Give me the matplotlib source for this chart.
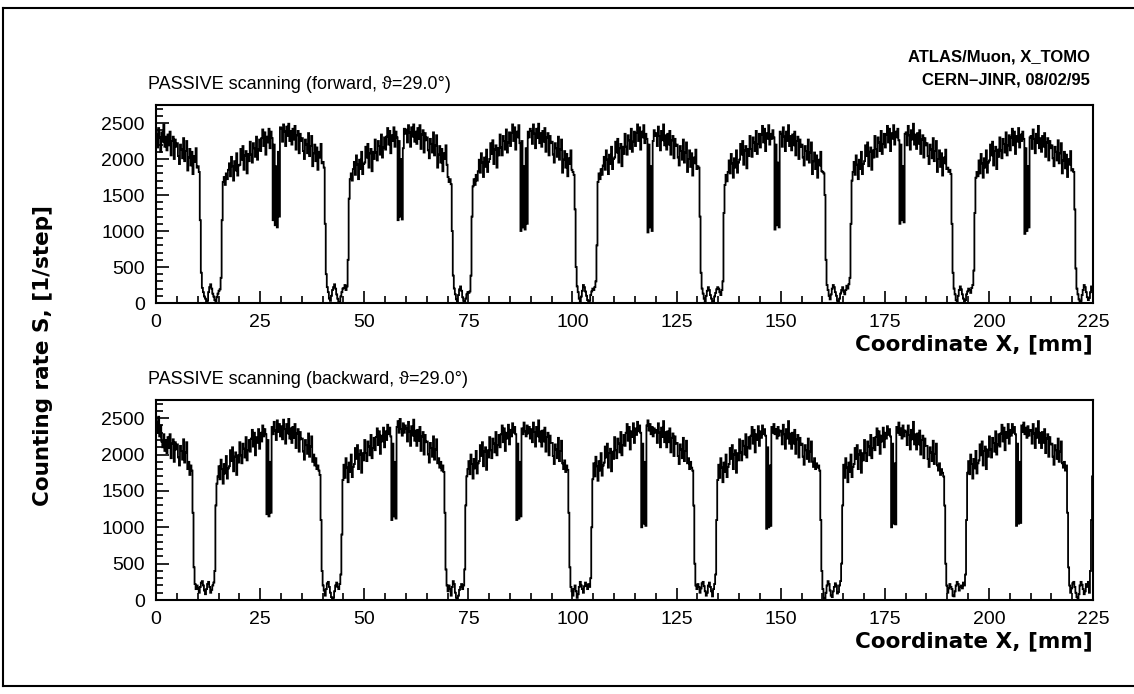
import numpy as np
import matplotlib
matplotlib.use('Agg')
import matplotlib.pyplot as plt
from matplotlib.lines import Line2D
from matplotlib.ticker import MultipleLocator

# scan grid: 0.25 mm steps from 0 to 225 mm
step_mm = 0.25
x_lo, x_hi = 0, 225

# counts per step, forward scan (one row = 10 steps = 2.5 mm)
fwd_counts = [
    2340, 2160, 2430, 2300, 2100, 2370, 2240, 2480, 2170, 2310,
    2120, 2340, 2190, 2380, 2050, 2250, 2310, 2000, 2270, 2170,
    2220, 2040, 1930, 2200, 2130, 2010, 2290, 1970, 2110, 2250,
    1840, 2020, 2140, 1910, 2100, 1790, 2040, 1960, 2150, 1880,
    1900, 1820, 1150, 420, 210, 150, 90, 60, 0, 30,
    150, 220, 260, 200, 130, 90, 40, 20, 80, 130,
    170, 190, 350, 1150, 1680, 1750, 1640, 1800, 1720, 1850,
    1940, 1760, 2030, 1900, 1700, 1970, 1840, 2080, 1770, 1910,
    1920, 2140, 1990, 2180, 1850, 2050, 2110, 1800, 2070, 1970,
    2240, 2060, 1950, 2220, 2150, 2030, 2310, 1990, 2130, 2270,
    2110, 2290, 2410, 2180, 2370, 2060, 2310, 2230, 2420, 2150,
    2380, 2290, 1150, 2200, 1080, 1900, 1050, 2100, 1200, 2440,
    2420, 2240, 2480, 2380, 2180, 2450, 2320, 2490, 2250, 2390,
    2200, 2420, 2270, 2460, 2130, 2330, 2390, 2080, 2350, 2250,
    2290, 2110, 2000, 2270, 2200, 2080, 2360, 2040, 2180, 2320,
    1900, 2080, 2200, 1970, 2160, 1850, 2100, 2020, 2210, 1940,
    1960, 1880, 1100, 400, 220, 150, 60, 30, 100, 180,
    220, 260, 200, 120, 60, 0, 10, 90, 150, 200,
    210, 250, 180, 230, 600, 1450, 1720, 1800, 1700, 1860,
    1960, 1780, 2050, 1920, 1720, 1990, 1860, 2100, 1790, 1930,
    1950, 2170, 2020, 2210, 1880, 2080, 2140, 1830, 2100, 2000,
    2270, 2090, 1980, 2250, 2180, 2060, 2340, 2020, 2160, 2300,
    2130, 2310, 2430, 2200, 2390, 2080, 2330, 2250, 2440, 2170,
    2380, 2300, 1150, 2250, 1200, 2000, 1160, 2150, 2420, 2350,
    2410, 2230, 2470, 2370, 2170, 2440, 2310, 2480, 2240, 2380,
    2210, 2430, 2280, 2470, 2140, 2340, 2400, 2090, 2360, 2260,
    2300, 2120, 2010, 2280, 2210, 2090, 2370, 2050, 2190, 2330,
    1880, 2060, 2180, 1950, 2140, 1830, 2080, 2000, 2190, 1920,
    1750, 1680, 1720, 1650, 1000, 380, 200, 120, 50, 20,
    110, 190, 230, 170, 80, 30, 0, 60, 120, 150,
    140, 160, 380, 1200, 1620, 1720, 1640, 1780, 1700, 1830,
    1990, 1810, 2080, 1950, 1750, 2020, 1890, 2130, 1820, 1960,
    2000, 2220, 2070, 2260, 1930, 2130, 2190, 1880, 2150, 2050,
    2340, 2160, 2050, 2320, 2250, 2130, 2410, 2090, 2230, 2370,
    2180, 2360, 2480, 2250, 2440, 2130, 2380, 2300, 2470, 2220,
    1000, 2250, 1050, 1900, 1020, 2150, 1100, 2380, 2300, 2420,
    2390, 2210, 2480, 2350, 2150, 2420, 2290, 2490, 2220, 2360,
    2170, 2390, 2240, 2430, 2100, 2300, 2360, 2050, 2320, 2220,
    2240, 2060, 1950, 2220, 2150, 2030, 2310, 1990, 2130, 2270,
    1810, 1990, 2110, 1880, 2070, 1760, 2010, 1930, 2120, 1850,
    1820, 1780, 1300, 500, 230, 150, 60, 20, 90, 170,
    250, 220, 160, 100, 40, 0, 30, 110, 160, 200,
    180, 220, 300, 800, 1680, 1800, 1720, 1860, 1780, 1910,
    2030, 1850, 2120, 1990, 1790, 2060, 1930, 2170, 1860, 2000,
    2020, 2240, 2090, 2280, 1950, 2150, 2210, 1900, 2170, 2070,
    2350, 2170, 2060, 2330, 2260, 2140, 2420, 2100, 2240, 2380,
    2180, 2360, 2480, 2250, 2440, 2130, 2380, 2300, 2470, 2220,
    2350, 2280, 980, 2200, 1050, 1900, 1000, 2250, 2400, 2320,
    2360, 2180, 2450, 2320, 2120, 2390, 2260, 2480, 2190, 2330,
    2130, 2350, 2200, 2390, 2060, 2260, 2320, 2010, 2280, 2180,
    2200, 2020, 1910, 2180, 2110, 1990, 2270, 1950, 2090, 2230,
    1820, 2000, 2120, 1890, 2080, 1770, 2020, 1940, 2130, 1860,
    1900, 1880, 1200, 420, 200, 130, 60, 20, 100, 170,
    220, 180, 110, 60, 0, 20, 90, 140, 190, 220,
    200, 150, 110, 180, 300, 1250, 1640, 1780, 1690, 1820,
    1980, 1800, 2070, 1940, 1740, 2010, 1880, 2120, 1810, 1950,
    1990, 2210, 2060, 2250, 1920, 2120, 2180, 1870, 2140, 2040,
    2320, 2140, 2030, 2300, 2230, 2110, 2390, 2070, 2210, 2350,
    2160, 2340, 2460, 2230, 2420, 2110, 2360, 2280, 2470, 2200,
    2350, 2280, 2400, 2300, 1020, 2200, 1080, 1950, 1050, 2380,
    2350, 2170, 2440, 2310, 2110, 2380, 2250, 2470, 2180, 2320,
    2120, 2340, 2190, 2380, 2050, 2250, 2310, 2000, 2270, 2170,
    2200, 2020, 1910, 2180, 2110, 1990, 2270, 1950, 2090, 2230,
    1790, 1970, 2090, 1860, 2050, 1740, 1990, 1910, 2100, 1830,
    1820, 1800, 1500, 600, 250, 180, 100, 50, 120, 200,
    250, 220, 150, 100, 30, 0, 60, 130, 180, 220,
    160, 120, 180, 240, 200, 260, 350, 1100, 1700, 1820,
    1960, 1780, 2050, 1920, 1720, 1990, 1860, 2100, 1790, 1930,
    1970, 2190, 2040, 2230, 1900, 2100, 2160, 1850, 2120, 2020,
    2320, 2140, 2030, 2300, 2230, 2110, 2390, 2070, 2210, 2350,
    2160, 2340, 2460, 2230, 2420, 2110, 2360, 2280, 2470, 2200,
    2380, 2300, 2420, 2260, 1100, 2200, 1150, 1900, 1120, 2350,
    2370, 2190, 2460, 2330, 2130, 2400, 2270, 2490, 2200, 2340,
    2140, 2360, 2210, 2400, 2070, 2270, 2330, 2020, 2290, 2190,
    2220, 2040, 1930, 2200, 2130, 2010, 2290, 1970, 2110, 2250,
    1820, 2000, 2120, 1890, 2080, 1770, 2020, 1940, 2130, 1860,
    1880, 1820, 1850, 1790, 1100, 420, 200, 120, 40, 10,
    100, 180, 230, 190, 120, 60, 0, 40, 120, 160,
    200, 180, 140, 210, 250, 450, 1250, 1740, 1820, 1760,
    1980, 1800, 2070, 1940, 1740, 2010, 1880, 2120, 1810, 1950,
    1980, 2200, 2050, 2240, 1910, 2110, 2170, 1860, 2130, 2030,
    2300, 2120, 2010, 2280, 2210, 2090, 2370, 2050, 2190, 2330,
    2120, 2300, 2420, 2190, 2380, 2070, 2320, 2240, 2430, 2160,
    2340, 2250, 2380, 2280, 960, 2150, 1000, 1900, 1050, 2300,
    2320, 2140, 2410, 2280, 2080, 2350, 2220, 2460, 2150, 2290,
    2100, 2320, 2170, 2360, 2030, 2230, 2290, 1980, 2250, 2150,
    2190, 2010, 1900, 2170, 2100, 1980, 2260, 1940, 2080, 2220,
    1800, 1980, 2100, 1870, 2060, 1750, 2000, 1920, 2110, 1840,
    1860, 1820, 1300, 480, 200, 120, 50, 0, 30, 110,
    180, 250, 220, 150, 80, 40, 70, 150, 230, 180,
]

# counts per step, backward scan
bwd_counts = [
    2450, 2300, 2520, 2250, 2400, 2180, 2100, 2280, 2050, 2200,
    2020, 2240, 2090, 2280, 1950, 2150, 2210, 1900, 2170, 2070,
    2140, 1960, 1850, 2120, 2050, 1930, 2210, 1890, 2030, 2170,
    1800, 1900, 1720, 1850, 1780, 1200, 450, 220, 150, 200,
    160, 100, 180, 240, 260, 200, 130, 80, 150, 220,
    250, 180, 100, 140, 200, 240, 400, 1300, 1600, 1700,
    1840, 1660, 1930, 1800, 1600, 1870, 1740, 1980, 1670, 1810,
    1840, 2060, 1910, 2100, 1770, 1970, 2030, 1720, 1990, 1890,
    2170, 1990, 1880, 2150, 2080, 1960, 2240, 1920, 2060, 2200,
    2040, 2220, 2340, 2110, 2300, 1990, 2240, 2160, 2350, 2080,
    2300, 2180, 2400, 2250, 2350, 2280, 1180, 2200, 1150, 1900,
    1200, 2380, 2280, 2450, 2330, 2200, 2470, 2310, 2420, 2250,
    2390, 2210, 2480, 2350, 2150, 2420, 2290, 2490, 2220, 2360,
    2160, 2380, 2230, 2420, 2090, 2290, 2350, 2040, 2310, 2210,
    2220, 2040, 1930, 2200, 2130, 2010, 2290, 1970, 2110, 2250,
    1900, 2000, 1850, 1950, 1800, 1850, 1780, 1720, 1100, 400,
    200, 130, 60, 150, 230, 250, 180, 100, 40, 0,
    30, 120, 200, 240, 180, 150, 220, 350, 900, 1650,
    1860, 1680, 1950, 1820, 1620, 1890, 1760, 2000, 1690, 1830,
    1870, 2090, 1940, 2130, 1800, 2000, 2060, 1750, 2020, 1920,
    2200, 2020, 1910, 2180, 2110, 1990, 2270, 1950, 2090, 2230,
    2060, 2240, 2360, 2130, 2320, 2010, 2260, 2180, 2370, 2100,
    2320, 2200, 2410, 2280, 2370, 2250, 1100, 2150, 1150, 1900,
    1120, 2380, 2460, 2300, 2490, 2350, 2260, 2430, 2300, 2400,
    2360, 2180, 2450, 2320, 2120, 2390, 2260, 2480, 2190, 2330,
    2120, 2340, 2190, 2380, 2050, 2250, 2310, 2000, 2270, 2170,
    2180, 2000, 1890, 2160, 2090, 1970, 2250, 1930, 2070, 2210,
    1880, 1950, 1820, 1900, 1780, 1850, 1760, 1200, 420, 200,
    120, 200, 150, 60, 180, 260, 220, 100, 30, 0,
    60, 140, 180, 220, 150, 200, 420, 1300, 1700, 1800,
    1910, 1730, 2000, 1870, 1670, 1940, 1810, 2050, 1740, 1880,
    1910, 2130, 1980, 2170, 1840, 2040, 2100, 1790, 2060, 1960,
    2240, 2060, 1950, 2220, 2150, 2030, 2310, 1990, 2130, 2270,
    2100, 2280, 2400, 2170, 2360, 2050, 2300, 2220, 2410, 2140,
    2340, 2250, 2430, 2300, 2380, 2280, 1100, 2150, 1120, 1900,
    1150, 2360, 2280, 2440, 2320, 2250, 2400, 2290, 2380, 2220,
    2350, 2170, 2440, 2310, 2110, 2380, 2250, 2470, 2180, 2320,
    2110, 2330, 2180, 2370, 2040, 2240, 2300, 1990, 2260, 2160,
    2160, 1980, 1870, 2140, 2070, 1950, 2230, 1910, 2050, 2190,
    1880, 1800, 1920, 1760, 1850, 1790, 1200, 450, 180, 120,
    60, 150, 200, 120, 30, 80, 180, 250, 200, 150,
    100, 190, 240, 200, 150, 220, 180, 300, 1000, 1660,
    1880, 1700, 1970, 1840, 1640, 1910, 1780, 2020, 1710, 1850,
    1890, 2110, 1960, 2150, 1820, 2020, 2080, 1770, 2040, 1940,
    2240, 2060, 1950, 2220, 2150, 2030, 2310, 1990, 2130, 2270,
    2120, 2300, 2420, 2190, 2380, 2070, 2320, 2240, 2430, 2160,
    2360, 2270, 2450, 2320, 2400, 2300, 1000, 2150, 1050, 1900,
    1020, 2400, 2470, 2330, 2420, 2280, 2380, 2250, 2360, 2300,
    2340, 2160, 2430, 2300, 2100, 2370, 2240, 2460, 2170, 2310,
    2100, 2320, 2170, 2360, 2030, 2230, 2290, 1980, 2250, 2150,
    2160, 1980, 1870, 2140, 2070, 1950, 2230, 1910, 2050, 2190,
    1880, 1950, 1800, 1900, 1820, 1780, 1300, 500, 200, 150,
    220, 180, 100, 160, 230, 250, 190, 120, 60, 100,
    200, 240, 180, 120, 50, 150, 220, 350, 1100, 1650,
    1860, 1680, 1950, 1820, 1620, 1890, 1760, 2000, 1690, 1830,
    1870, 2090, 1940, 2130, 1800, 2000, 2060, 1750, 2020, 1920,
    2210, 2030, 1920, 2190, 2120, 2000, 2280, 1960, 2100, 2240,
    2080, 2260, 2380, 2150, 2340, 2030, 2280, 2200, 2390, 2120,
    2320, 2230, 2400, 2280, 2350, 2260, 980, 2100, 1000, 1850,
    1020, 2380, 2300, 2420, 2280, 2350, 2220, 2380, 2260, 2330,
    2320, 2140, 2410, 2280, 2080, 2350, 2220, 2460, 2150, 2290,
    2080, 2300, 2150, 2340, 2010, 2210, 2270, 1960, 2230, 2130,
    2150, 1970, 1860, 2130, 2060, 1940, 2220, 1900, 2040, 2180,
    1900, 1830, 1950, 1800, 1880, 1820, 1850, 1780, 1100, 400,
    150, 30, 0, 100, 200, 260, 220, 130, 60, 40,
    120, 180, 230, 200, 90, 110, 200, 260, 500, 1300,
    1860, 1680, 1950, 1820, 1620, 1890, 1760, 2000, 1690, 1830,
    1870, 2090, 1940, 2130, 1800, 2000, 2060, 1750, 2020, 1920,
    2200, 2020, 1910, 2180, 2110, 1990, 2270, 1950, 2090, 2230,
    2060, 2240, 2360, 2130, 2320, 2010, 2260, 2180, 2370, 2100,
    2300, 2220, 2390, 2270, 2350, 2250, 1000, 2150, 1050, 1880,
    1040, 2380, 2300, 2440, 2270, 2360, 2220, 2400, 2250, 2330,
    2310, 2130, 2400, 2270, 2070, 2340, 2210, 2450, 2140, 2280,
    2070, 2290, 2140, 2330, 2000, 2200, 2260, 1950, 2220, 2120,
    2120, 1940, 1830, 2100, 2030, 1910, 2190, 1870, 2010, 2150,
    1850, 1780, 1880, 1720, 1800, 1750, 1700, 1300, 500, 200,
    100, 160, 220, 180, 150, 60, 50, 120, 200, 250,
    220, 130, 180, 200, 160, 240, 200, 350, 1100, 1750,
    1910, 1730, 2000, 1870, 1670, 1940, 1810, 2050, 1740, 1880,
    1920, 2140, 1990, 2180, 1850, 2050, 2110, 1800, 2070, 1970,
    2250, 2070, 1960, 2230, 2160, 2040, 2320, 2000, 2140, 2280,
    2110, 2290, 2410, 2180, 2370, 2060, 2310, 2230, 2420, 2150,
    2340, 2260, 2420, 2300, 2380, 2280, 1020, 2150, 1050, 1900,
    1060, 2400, 2310, 2440, 2280, 2370, 2230, 2390, 2260, 2340,
    2330, 2150, 2420, 2290, 2090, 2360, 2230, 2460, 2160, 2300,
    2090, 2310, 2160, 2350, 2020, 2220, 2280, 1970, 2240, 2140,
    2150, 1970, 1860, 2130, 2060, 1940, 2220, 1900, 2040, 2180,
    1880, 1820, 1900, 1780, 1850, 1200, 450, 200, 100, 160,
    230, 250, 180, 100, 40, 0, 80, 200, 250, 210,
    150, 80, 120, 220, 180, 250, 100, 400, 1100, 1700,
]

panel_titles = ['PASSIVE scanning (forward, \u03d1=29.0\u00b0)',
                'PASSIVE scanning (backward, \u03d1=29.0\u00b0)']
header_lines = ['ATLAS/Muon, X_TOMO', 'CERN\u2013JINR, 08/02/95']
x_label = 'Coordinate X, [mm]'
y_label = 'Counting rate S, [1/step]'

thin = ['Liberation Sans', 'DejaVu Sans']
wide_bold = 'DejaVu Sans'

edges = np.arange(len(fwd_counts) + 1) * step_mm

fig = plt.figure(figsize=(11.34, 6.94), dpi=100)
ax_top = fig.add_axes([0.1376, 0.5634, 0.8263, 0.2853])
ax_bot = fig.add_axes([0.1376, 0.1354, 0.8263, 0.2882])

for ax, counts, title in [(ax_top, fwd_counts, panel_titles[0]),
                          (ax_bot, bwd_counts, panel_titles[1])]:
    ax.stairs(counts, edges, color='black', linewidth=1.3)
    ax.set_xlim(x_lo, x_hi)
    ax.set_ylim(0, 2750)
    ax.xaxis.set_major_locator(MultipleLocator(25))
    ax.xaxis.set_minor_locator(MultipleLocator(5))
    ax.yaxis.set_major_locator(MultipleLocator(500))
    ax.yaxis.set_minor_locator(MultipleLocator(100))
    ax.tick_params(which='both', direction='in', top=False, right=False,
                   width=1.2, color='black')
    ax.tick_params(which='major', length=9, pad=8)
    ax.tick_params(which='minor', length=5)
    for lab in ax.get_xticklabels() + ax.get_yticklabels():
        lab.set_family(thin)
        lab.set_fontsize(14)
    for sp in ax.spines.values():
        sp.set_linewidth(1.5)
    ax.set_xlabel(x_label, fontsize=15.5, fontweight='bold',
                  family=wide_bold, loc='right', labelpad=2)
    ax.text(-0.009, 1.06, title, transform=ax.transAxes, ha='left',
            va='bottom', fontsize=13, family=thin)

fig.text(1090 / 1134, 1 - 57 / 694, header_lines[0], ha='right', va='center',
         fontsize=12, fontweight='bold', family=thin)
fig.text(1090 / 1134, 1 - 80 / 694, header_lines[1], ha='right', va='center',
         fontsize=12, fontweight='bold', family=thin)
fig.text(43 / 1134, 1 - 355 / 694, y_label, rotation=90, ha='center',
         va='center', fontsize=15.5, fontweight='bold', family=wide_bold)

# old printout frame around the page
frame_kw = dict(color='black', linewidth=1.5, transform=fig.transFigure)
fig.add_artist(Line2D([0.003, 0.003], [0.012, 0.988], **frame_kw))
fig.add_artist(Line2D([0.003, 1.0], [0.988, 0.988], **frame_kw))
fig.add_artist(Line2D([0.003, 1.0], [0.012, 0.012], **frame_kw))

fig.savefig('out.png', dpi=100)
